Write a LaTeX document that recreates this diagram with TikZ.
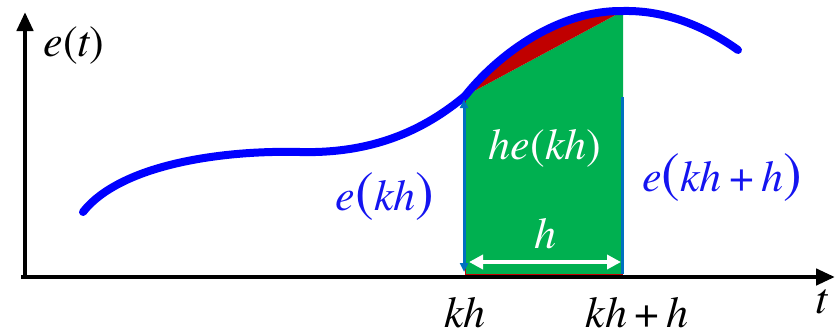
\documentclass[tikz,border=0pt]{standalone}
\usepackage{fontspec}
\setmainfont{texgyretermes}[Extension=.otf,UprightFont=*-regular,ItalicFont=*-italic,BoldFont=*-bold]
\usetikzlibrary{arrows.meta}
\definecolor{curveblue}{HTML}{0000FF}
\definecolor{areagreen}{HTML}{00B050}
\definecolor{errred}{HTML}{C00000}
\definecolor{edgeblue}{HTML}{0070C0}
\definecolor{labelblue}{HTML}{1414F0}
\newcommand{\bigparen}[1]{{\fontsize{56}{56}\selectfont\upshape #1}}

\begin{document}
\begin{tikzpicture}[x=1pt,y=-1pt,
  every node/.style={font=\fontsize{44}{46}\selectfont\itshape,inner sep=0pt},
  axis/.style={line width=4.5pt,-{Triangle[length=19pt,width=16pt]}},
  curve/.style={line width=8pt,curveblue,line cap=round},
  edge/.style={line width=3pt,edgeblue},
  span/.style={line width=4pt,white,{Triangle[length=14pt,width=14pt]}-{Triangle[length=14pt,width=14pt]}},
  bluelabel/.style={text=labelblue}
]
\useasboundingbox (0,0) rectangle (836,333);

% points on the axes and on the curve
\coordinate (origin) at (25,277);
\coordinate (ytop) at (25,12);
\coordinate (xstart) at (21,277);
\coordinate (xend) at (835,277);
\coordinate (kbase) at (465,274);
\coordinate (kkbase) at (623,274);
\coordinate (ek) at (465,96);
\coordinate (ekk) at (623,11);

% green area h e(kh)
\fill[areagreen] (kbase) -- (ek) -- (ekk) -- (kkbase) -- cycle;
% error between curve and chord
\fill[errred] (ek) .. controls (500,52) and (560,10) .. (ekk) -- cycle;
\draw[errred,thin] (ek) -- (kbase) -- (kkbase);

% the curve e(t)
\draw[curve] (83,212) .. controls (120,165) and (220,150) .. (300,152)
  .. controls (380,154) and (430,125) .. (ek)
  .. controls (500,52) and (560,10) .. (ekk)
  .. controls (670,10) and (710,30) .. (738,50);

% edges of the area
\draw[edge,{Triangle[length=9pt,width=8pt]}-{Triangle[length=9pt,width=8pt]}] (464,272) -- (464,99);
\draw[edge] (622,274) -- (622,97);
\draw[span] (469,262) -- (621,262);

% axes
\draw[axis] (origin) -- (ytop);
\draw[axis] (xstart) -- (xend);

% labels
\node (et) at (74,46) {e\upshape(\itshape t\upshape)};
\node[text=white] (hlabel) at (545,234) {h};
\node[text=white] (area) at (545,148) {he\upshape(\itshape kh\upshape)};
\node[bluelabel] (ekh) at (385,197) {e\bigparen{(}kh\bigparen{)}};
\node[bluelabel] (ekhh) at (722,178) {e\bigparen{(}kh\,\upshape+\,\itshape h\bigparen{)}};
\node (kh) at (465,313) {kh};
\node (khh) at (637,313) {kh\,\upshape+\,\itshape h};
\node (tlabel) at (822,302) {t};
\end{tikzpicture}
\end{document}
